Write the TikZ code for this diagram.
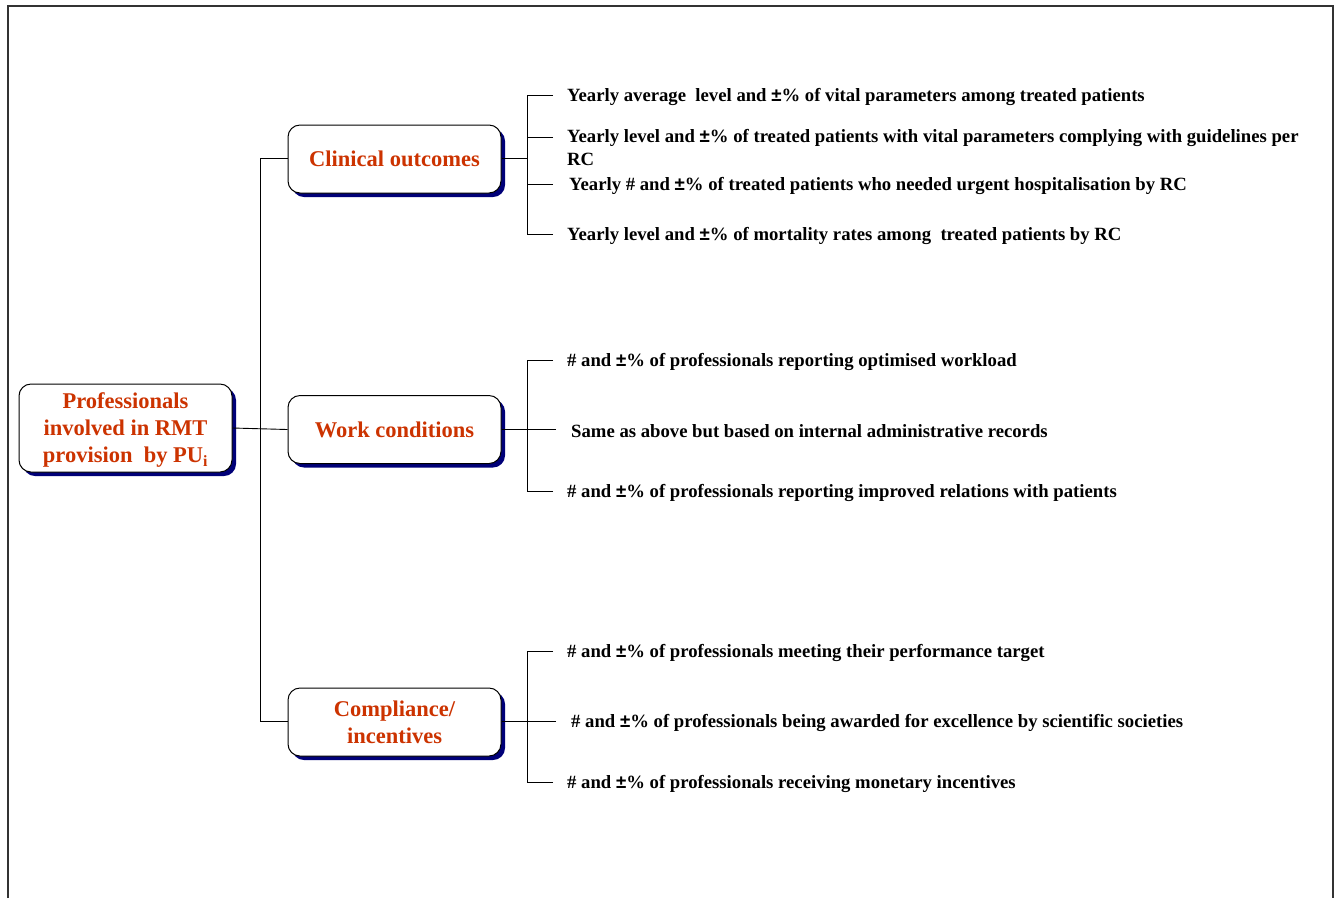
\documentclass[tikz,border=0pt]{standalone}
\usepackage{fontspec}
\setmainfont{Liberation Serif}
\newfontfamily\pmfont{Liberation Sans}
\usetikzlibrary{shadows}
\definecolor{headred}{RGB}{204,51,0}
\definecolor{shadownavy}{RGB}{0,0,120}
% heavy plus-minus sign used in the indicator texts
\newcommand{\pmsign}{{\pmfont\bfseries ±}}
% centred block of lines, drawn a little lower without changing its size
\newcommand{\lowblock}[1]{\raisebox{-2.5pt}[\height][\depth]{\begin{tabular}{@{}c@{}}#1\end{tabular}}}
\begin{document}
\begin{tikzpicture}[x=1pt,y=-1pt,
  catbox/.style={draw=black,line width=1pt,fill=white,rounded corners=12pt,
    minimum width=213pt,minimum height=68pt,inner sep=2pt,
    font=\fontsize{22.5}{27}\selectfont\bfseries,text=headred,
    general shadow={shadow xshift=4pt,shadow yshift=-4pt,fill=shadownavy,rounded corners=12pt}},
  leaf/.style={anchor=west,inner sep=0pt,align=left,yshift=-2pt,
    font=\fontsize{18.7}{23}\selectfont\bfseries,text=black},
  link/.style={line width=0.9pt,draw=black}]
\useasboundingbox (0,0) rectangle (1337,898);
% outer frame, open at the bottom
\draw[line width=2pt,draw=black!80] (7.5,898) -- (7.5,6) -- (1333,6) -- (1333,898);

% main and category boxes
\node[catbox,minimum height=88pt] (root) at (125.5,428)
  {\lowblock{Professionals\\involved in RMT\\provision\ \ by PU\textsubscript{i}}};
\node[catbox] (clin) at (394.5,159) {\lowblock{Clinical outcomes}};
\node[catbox] (work) at (394.5,429.5) {\lowblock{Work conditions}};
\node[catbox] (comp) at (394.5,722) {\lowblock{Compliance/\\incentives}};

% trunk from the main box
\coordinate (tc) at (260,158);
\coordinate (tp) at (260,721);
\draw[link] (root.east) -- (work.west);
\draw[link] (clin.west |- tc) -- (tc) -- (tp) -- (comp.west |- tp);

% clinical outcome indicators
\node[leaf] (c1) at (567,95) {Yearly average\ \ level and \pmsign\% of vital parameters among treated patients};
\node[leaf,anchor=north west] (c2) at (567,127) {Yearly level and \pmsign\% of treated patients with vital parameters complying with guidelines per\\RC};
\node[leaf] (c3) at (569,184) {Yearly \# and \pmsign\% of treated patients who needed urgent hospitalisation by RC};
\node[leaf] (c4) at (567,234) {Yearly level and \pmsign\% of mortality rates among\ \ treated patients by RC};
\coordinate (cb) at (527,158);
\coordinate (ce1) at (553,95);
\coordinate (ce2) at (553,137);
\coordinate (ce3) at (553,184);
\coordinate (ce4) at (553,234);
\draw[link] (clin.east |- cb) -- (cb);
\draw[link] (ce1) -| (cb);
\draw[link] (ce2) -| (cb);
\draw[link] (ce3) -| (cb);
\draw[link] (ce4) -| (cb);

% work condition indicators
\node[leaf] (w1) at (567,360) {\# and \pmsign\% of professionals reporting optimised workload};
\node[leaf] (w2) at (571,429) {Same as above but based on internal administrative records};
\node[leaf] (w3) at (567,491) {\# and \pmsign\% of professionals reporting improved relations with patients};
\coordinate (wb) at (527,429);
\coordinate (we1) at (553,360);
\coordinate (we2) at (556,429);
\coordinate (we3) at (553,491);
\draw[link] (work.east |- wb) -- (wb);
\draw[link] (we1) -| (wb);
\draw[link] (we2) -- (wb);
\draw[link] (we3) -| (wb);

% compliance / incentive indicators
\node[leaf] (p1) at (567,651) {\# and \pmsign\% of professionals meeting their performance target};
\node[leaf] (p2) at (571,721) {\# and \pmsign\% of professionals being awarded for excellence by scientific societies};
\node[leaf] (p3) at (567,782) {\# and \pmsign\% of professionals receiving monetary incentives};
\coordinate (pb) at (527,721);
\coordinate (pe1) at (553,651);
\coordinate (pe2) at (556,721);
\coordinate (pe3) at (553,782);
\draw[link] (comp.east |- pb) -- (pb);
\draw[link] (pe1) -| (pb);
\draw[link] (pe2) -- (pb);
\draw[link] (pe3) -| (pb);
\end{tikzpicture}
\end{document}
